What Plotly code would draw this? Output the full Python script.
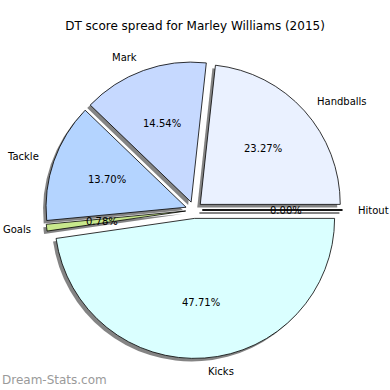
import math
import plotly.graph_objects as go

labels = ["Hitout", "Handballs", "Mark", "Tackle", "Goals", "Kicks"]
values = [0.0, 23.27, 14.54, 13.70, 0.78, 47.71]
colors = ["#DDEEFF", "#EAF1FF", "#C6D9FF", "#B4D4FF", "#C8E88C", "#DAFFFF"]

title = "DT score spread for Marley Williams (2015)"
watermark = "Dream-Stats.com"

W = H = 390
pull = 0.06
cx, cy, r = 194, 210, 140          # pie centre / radius in pixels
side = 2 * r * (1 + pull)
dx = [(cx - side / 2) / W, (cx + side / 2) / W]
dy = [1 - (cy + side / 2) / H, 1 - (cy - side / 2) / H]
sh = 3 / W  # shadow offset

common = dict(labels=labels, values=values, sort=False, direction="counterclockwise",
              rotation=90, pull=[pull] * len(values), hoverinfo="skip", textinfo="none",
              showlegend=False)

fig = go.Figure()
fig.add_trace(go.Pie(**common,
                     domain=dict(x=[dx[0] - sh, dx[1] - sh], y=[dy[0] - sh, dy[1] - sh]),
                     marker=dict(colors=["rgba(110,110,110,0.85)"] * len(values),
                                 line=dict(width=0))))
fig.add_trace(go.Pie(**common, domain=dict(x=dx, y=dy),
                     marker=dict(colors=colors, line=dict(color="black", width=0.8))))

# text placement as matplotlib does: label at 1.1r, percentage at 0.6r from exploded centre
total = sum(values)
annotations = []
shapes = []
start = 0.0
font = dict(family="DejaVu Sans", size=10, color="black")
for lab, v in zip(labels, values):
    span = 360.0 * v / total
    mid = math.radians(start + span / 2)
    ox = cx + pull * r * math.cos(mid)
    oy = cy - pull * r * math.sin(mid)
    lx = ox + 1.1 * r * math.cos(mid)
    ly = oy - 1.1 * r * math.sin(mid)
    px = ox + 0.6 * r * math.cos(mid)
    py = oy - 0.6 * r * math.sin(mid)
    annotations.append(dict(text=lab, x=lx / W, y=1 - ly / H, xref="paper", yref="paper",
                            xanchor="left" if math.cos(mid) > 0 else "right",
                            yanchor="middle", showarrow=False, font=font))
    annotations.append(dict(text=f"{100 * v / total:.2f}%", x=px / W, y=1 - py / H,
                            xref="paper", yref="paper", xanchor="center",
                            yanchor="middle", showarrow=False, font=font))
    if v == 0:  # degenerate wedge: draw its edge
        ex = ox + r * math.cos(mid)
        ey = oy - r * math.sin(mid)
        shapes.append(dict(type="line", xref="paper", yref="paper",
                           x0=ox / W - sh, y0=1 - oy / H - sh, x1=ex / W - sh, y1=1 - ey / H - sh,
                           line=dict(color="rgba(110,110,110,0.85)", width=2)))
        shapes.append(dict(type="line", xref="paper", yref="paper",
                           x0=ox / W, y0=1 - oy / H, x1=ex / W, y1=1 - ey / H,
                           line=dict(color="black", width=1.5)))
    start += span

annotations.append(dict(text=watermark, xref="paper", yref="paper", x=0, y=1 - 380 / H,
                        xanchor="left", yanchor="middle", showarrow=False,
                        font=dict(family="DejaVu Sans", size=12, color="#9a9a9a")))

fig.update_layout(
    width=W, height=H, margin=dict(l=0, r=0, t=0, b=0),
    paper_bgcolor="white", plot_bgcolor="white",
    title=dict(text=title, x=0.5, xanchor="center", y=1 - 26 / H, yanchor="middle",
               font=dict(family="DejaVu Sans", size=12, color="black")),
    annotations=annotations, shapes=shapes,
)

fig.write_html("out.html", config={"displayModeBar": False},
               post_script="document.body.style.margin='0';")
